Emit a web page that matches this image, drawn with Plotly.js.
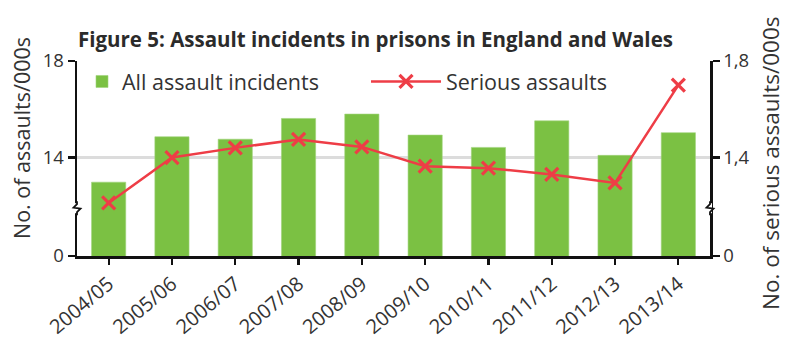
<!DOCTYPE html>
<html>
<head>
<meta charset="utf-8">
<script src="https://cdn.plot.ly/plotly-3.0.1.min.js"></script>
<style>html,body{margin:0;padding:0;background:#fff;}#chart{width:800px;height:348px;}</style>
</head>
<body>
<div id="chart"></div>
<script>
// Data (thousands)
const categories = ["2004/05","2005/06","2006/07","2007/08","2008/09","2009/10","2010/11","2011/12","2012/13","2013/14"];
const allAssaults = [12.98, 14.86, 14.76, 15.62, 15.80, 14.93, 14.42, 15.52, 14.09, 15.03];
const seriousAssaults = [1.212, 1.400, 1.440, 1.475, 1.444, 1.364, 1.356, 1.330, 1.295, 1.700];
const leftTickLabels = ["0", "14", "18"];
const rightTickLabels = ["0", "1,4", "1,8"];

const FONT = "Open Sans, Lato, sans-serif";
const TXT = "#333333";
const GREEN = "#7bc143";
const RED = "#ee3d46";

// broken-axis lower bounds (label "0" shown at the bottom)
const leftMin = 9.92, rightMin = 0.992;

const traces = [
  {
    type: "bar", name: "All assault incidents",
    x: categories, y: allAssaults,
    marker: {color: GREEN, line: {color: "#9fd47a", width: 0.6}},
    yaxis: "y", legend: "legend"
  },
  {
    type: "scatter", mode: "lines+markers", name: "Serious assaults",
    x: categories, y: seriousAssaults,
    line: {color: RED, width: 2.5},
    marker: {symbol: "x-thin-open", size: 13, color: RED, line: {color: RED, width: 3.2}},
    yaxis: "y2", legend: "legend2"
  }
];

function breakShapes(xPaper) {
  return [
    {type: "rect", xref: "paper", yref: "y", xsizemode: "pixel", ysizemode: "pixel",
     xanchor: xPaper, yanchor: 11.9, x0: -2, x1: 2, y0: -5, y1: 5,
     fillcolor: "#ffffff", line: {width: 0}, layer: "above"},
    {type: "path", xref: "paper", yref: "y", xsizemode: "pixel", ysizemode: "pixel",
     xanchor: xPaper, yanchor: 11.9,
     path: "M0,7 L0,4 L-3.5,0.5 L3.5,-0.5 L0,-4 L0,-7",
     line: {color: "#111111", width: 1.8}, layer: "above"}
  ];
}

const legendFont = {size: 21.5, color: TXT, family: FONT};

const layout = {
  width: 800, height: 348,
  margin: {l: 77, r: 90, t: 61, b: 92, pad: 0},
  paper_bgcolor: "#ffffff", plot_bgcolor: "#ffffff",
  font: {family: FONT, color: TXT, size: 18},
  title: {
    text: "<b>Figure 5: Assault incidents in prisons in England and Wales</b>",
    x: 78/800, xanchor: "left", xref: "container",
    y: 1 - 40/348, yanchor: "middle", yref: "container",
    font: {family: FONT, size: 20.5, color: "#2b2b2b"}
  },
  bargap: 0.46,
  showlegend: true,
  legend: {
    orientation: "h", x: (82-77)/633, y: 1.0, xanchor: "left", yanchor: "top",
    bgcolor: "rgba(0,0,0,0)", font: legendFont, itemwidth: 30
  },
  legend2: {
    orientation: "h", x: (366-77)/633, y: 1.0, xanchor: "left", yanchor: "top",
    bgcolor: "rgba(0,0,0,0)", font: legendFont, itemwidth: 70
  },
  xaxis: {
    type: "category", range: [-0.5, 9.5],
    showline: true, linecolor: "#111111", linewidth: 2.5,
    ticks: "outside", ticklen: 6, tickwidth: 2.2, tickcolor: "#111111",
    tickangle: -40, tickfont: {size: 20, color: TXT},
    showgrid: false, zeroline: false
  },
  yaxis: {
    range: [leftMin, 18],
    tickvals: [leftMin, 14, 18], ticktext: leftTickLabels,
    showline: true, linecolor: "#111111", linewidth: 2.5,
    ticks: "outside", ticklen: 7, tickwidth: 2.2, tickcolor: "#111111",
    tickfont: {size: 18.5, color: TXT},
    showgrid: true, gridcolor: "#dcdcdc", gridwidth: 2.5,
    zeroline: false, fixedrange: true
  },
  yaxis2: {
    overlaying: "y", side: "right",
    range: [rightMin, 1.8],
    tickvals: [rightMin, 1.4, 1.8], ticktext: rightTickLabels,
    showline: true, linecolor: "#111111", linewidth: 2.5,
    ticks: "outside", ticklen: 7, tickwidth: 2.2, tickcolor: "#111111",
    tickfont: {size: 18.5, color: TXT},
    showgrid: false, zeroline: false
  },
  annotations: [
    {text: "No. of assaults/000s", xref: "paper", yref: "paper",
     x: (21-77)/633, y: (256-138)/195, xanchor: "center", yanchor: "middle",
     textangle: -90, showarrow: false, font: {size: 21.5, color: TXT, family: FONT}},
    {text: "No. of serious assaults/000s", xref: "paper", yref: "paper",
     x: (770-77)/633, y: (256-163)/195, xanchor: "center", yanchor: "middle",
     textangle: -90, showarrow: false, font: {size: 22.5, color: TXT, family: FONT}}
  ],
  shapes: [].concat(breakShapes(0), breakShapes(1))
};

Plotly.newPlot("chart", traces, layout, {displayModeBar: false, staticPlot: true});
</script>
</body>
</html>
